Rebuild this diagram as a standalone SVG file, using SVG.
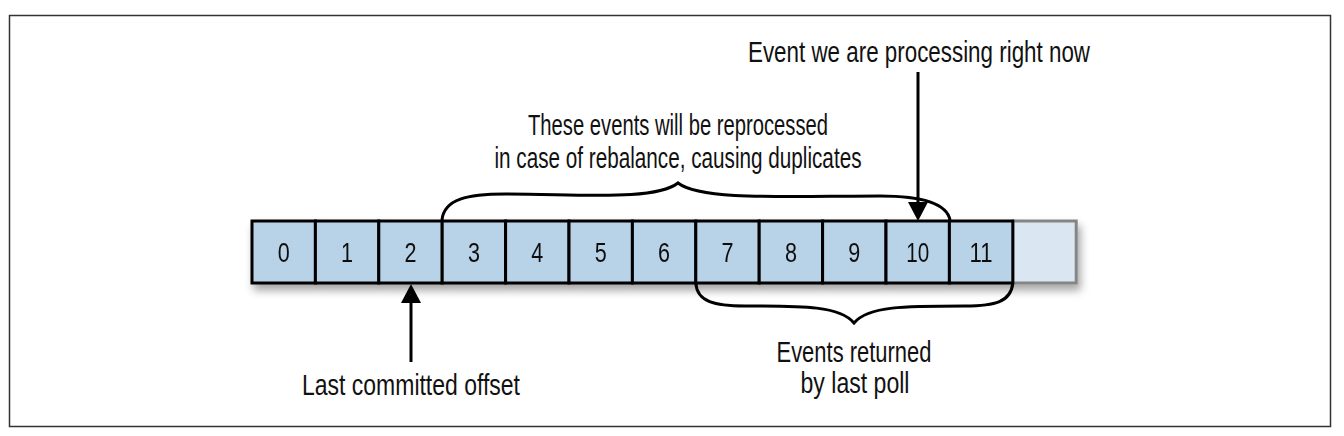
<svg xmlns="http://www.w3.org/2000/svg" width="1344" height="436" viewBox="0 0 1344 436">
<style>
.cell{fill:#b8d3e8;stroke:#000;stroke-width:3}
.empty{fill:#dae6f2;stroke:#858585;stroke-width:3}
.num{font-family:"Liberation Sans",Arial,sans-serif;font-size:28px;fill:#111;text-anchor:middle}
.lbl{font-family:"Liberation Sans",Arial,sans-serif;font-size:29px;fill:#111;text-anchor:middle}
.brace{fill:none;stroke:#000;stroke-width:3}
.arrow{fill:none;stroke:#000;stroke-width:3}
</style>
<defs>
<filter id="sh" x="-5%" y="-30%" width="115%" height="180%">
<feDropShadow dx="3" dy="6" stdDeviation="4" flood-color="#000" flood-opacity="0.35"/>
</filter>
</defs>
<rect x="9.5" y="15.5" width="1321" height="411" fill="#fff" stroke="#333" stroke-width="1.5"/>
<g id="cells" filter="url(#sh)">
<g id="cell-12"><rect class="empty" x="1012.8" y="221" width="63.4" height="62"/></g>
<g id="cell-0"><rect class="cell" x="252" y="221" width="63.4" height="62"/><text class="num" x="283.7" y="262" textLength="12" lengthAdjust="spacingAndGlyphs">0</text></g>
<g id="cell-1"><rect class="cell" x="315.4" y="221" width="63.4" height="62"/><text class="num" x="347.1" y="262" textLength="12" lengthAdjust="spacingAndGlyphs">1</text></g>
<g id="cell-2"><rect class="cell" x="378.8" y="221" width="63.4" height="62"/><text class="num" x="410.5" y="262" textLength="12" lengthAdjust="spacingAndGlyphs">2</text></g>
<g id="cell-3"><rect class="cell" x="442.2" y="221" width="63.4" height="62"/><text class="num" x="473.9" y="262" textLength="12" lengthAdjust="spacingAndGlyphs">3</text></g>
<g id="cell-4"><rect class="cell" x="505.6" y="221" width="63.4" height="62"/><text class="num" x="537.3" y="262" textLength="12" lengthAdjust="spacingAndGlyphs">4</text></g>
<g id="cell-5"><rect class="cell" x="569" y="221" width="63.4" height="62"/><text class="num" x="600.7" y="262" textLength="12" lengthAdjust="spacingAndGlyphs">5</text></g>
<g id="cell-6"><rect class="cell" x="632.4" y="221" width="63.4" height="62"/><text class="num" x="664.1" y="262" textLength="12" lengthAdjust="spacingAndGlyphs">6</text></g>
<g id="cell-7"><rect class="cell" x="695.8" y="221" width="63.4" height="62"/><text class="num" x="727.5" y="262" textLength="12" lengthAdjust="spacingAndGlyphs">7</text></g>
<g id="cell-8"><rect class="cell" x="759.2" y="221" width="63.4" height="62"/><text class="num" x="790.9" y="262" textLength="12" lengthAdjust="spacingAndGlyphs">8</text></g>
<g id="cell-9"><rect class="cell" x="822.6" y="221" width="63.4" height="62"/><text class="num" x="854.3" y="262" textLength="12" lengthAdjust="spacingAndGlyphs">9</text></g>
<g id="cell-10"><rect class="cell" x="886" y="221" width="63.4" height="62"/><text class="num" x="917.7" y="262" textLength="23" lengthAdjust="spacingAndGlyphs">10</text></g>
<g id="cell-11"><rect class="cell" x="949.4" y="221" width="63.4" height="62"/><text class="num" x="981.1" y="262" textLength="23" lengthAdjust="spacingAndGlyphs">11</text></g>
</g>
<g id="connectors">
<path class="brace" d="M442,220 C444,199 468,194 505,194 C580,194 655,201 678,183 C701,201 790,196 880,196 C925,196 947,205 950,220"/>
<path class="brace" d="M695.8,283 C697,302 715,306 745,306 C805,306 840,306 854,323 C868,306 905,306 965,306 C995,306 1011,302 1012.8,283"/>
<line class="arrow" x1="918" y1="72" x2="918" y2="204"/>
<path d="M908,202 L928,202 L918,221 z" fill="#000"/>
<line class="arrow" x1="411" y1="362" x2="411" y2="300"/>
<path d="M401,303 L421,303 L411,284 z" fill="#000"/>
</g>
<g id="label-current"><text class="lbl" x="919" y="62" textLength="342" lengthAdjust="spacingAndGlyphs">Event we are processing right now</text></g>
<g id="label-reprocess"><text class="lbl" x="678" y="135" textLength="300" lengthAdjust="spacingAndGlyphs">These events will be reprocessed</text><text class="lbl" x="678" y="168" textLength="367" lengthAdjust="spacingAndGlyphs">in case of rebalance, causing duplicates</text></g>
<g id="label-committed"><text class="lbl" x="411" y="395" textLength="218" lengthAdjust="spacingAndGlyphs">Last committed offset</text></g>
<g id="label-poll"><text class="lbl" x="854" y="362" textLength="155" lengthAdjust="spacingAndGlyphs">Events returned</text><text class="lbl" x="855" y="393" textLength="109" lengthAdjust="spacingAndGlyphs">by last poll</text></g>
</svg>
